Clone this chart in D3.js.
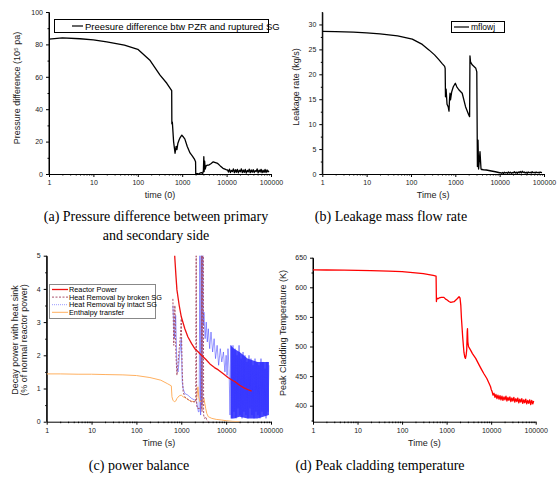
<!DOCTYPE html>
<html>
<head>
<meta charset="utf-8">
<script src="https://cdn.jsdelivr.net/npm/d3@7"></script>
<style>
  body { margin: 0; background: #fff; }
  svg text { font-family: "Liberation Sans", Arial, sans-serif; }
  .cap { font-family: "Liberation Serif", "Times New Roman", serif; font-size: 14px; }
</style>
</head>
<body>
<div id="chart"></div>
<script>
// ---------- data ----------
var xTicks = [1, 10, 100, 1000, 10000, 100000];

// late-time grid shared by the noisy tails (s)
var lateT = [10500, 11000, 11600, 12200, 12800, 13500, 14200, 15000, 15800, 16600, 17500, 18400,
  19400, 20400, 21500, 22600, 23800, 25000, 26300, 27700, 29200, 30700, 32300, 34000, 35800,
  37700, 39700, 41800, 44000, 46300, 48700, 51300, 54000, 56800, 59800, 63000, 66300, 69800,
  73500, 77400, 81500, 85800, 90000];

// (a) pressure difference PZR - ruptured SG (10^5 pa)
var aTime = [1, 2, 5, 10, 20, 50, 100, 190, 317, 450, 580, 585, 600, 640, 690, 730, 760, 800, 850,
  900, 980, 1050, 1150, 1300, 1500, 1700, 1900, 2000, 2020, 2200, 2400, 2500, 2700, 2900, 3000,
  3070, 3120, 3200, 3300, 3450, 3700, 4000, 4500, 5000, 5600, 6300, 7200, 8300, 9500, 10000];
var aVal = [83.2, 84, 83.5, 82.8, 81.5, 79.5, 77, 70, 61, 56, 51.5, 31, 32, 20, 12.8, 17, 15, 19, 21,
  22.5, 24, 23, 21.5, 17, 13, 11, 9, 7.6, 0, 0.3, 0, 0.5, 0.8, 0.4, 2,
  10.7, 1.5, 8, 3, 5, 5.5, 5.5, 6.5, 7.5, 7, 6.5, 5, 3.5, 2.8, 2.5];
var aLate = [2.5, 1.2, 3.0, 0.9, 2.2, 1.5, 3.1, 0.8, 2.6, 1.1, 2.9, 0.7, 2.3, 1.4, 3.2, 0.9, 2.4,
  1.0, 2.8, 0.6, 2.2, 1.3, 3.0, 0.8, 2.5, 1.1, 2.7, 0.9, 2.1, 1.5, 3.1, 0.7, 2.4, 1.2, 2.9, 0.8,
  2.3, 1.0, 2.8, 0.9, 2.5, 1.3, 2.0];

// (b) leakage mass flow rate, mflowj (kg/s)
var bTime = [1, 2, 5, 10, 20, 50, 107, 180, 254, 340, 430, 500, 575, 590, 600, 620, 650, 690, 720,
  740, 760, 780, 830, 900, 1000, 1080, 1200, 1430, 1700, 2000, 2100, 2140, 2200, 2400, 2900, 3050,
  3150, 3250, 3350, 3500, 3600, 3800, 3900, 4000, 4300, 5000, 6500, 8000, 10000];
var bVal = [28.6, 28.55, 28.45, 28.3, 28.1, 27.7, 27.05, 26, 24.9, 23.9, 22.9, 22.2, 21.6, 21.2,
  15.5, 17, 14, 13.5, 12.6, 15, 16.2, 14.9, 16.5, 17.5, 18.2, 17.5, 16.9, 16.2, 13.5, 11.9, 11.5,
  23.7, 22.5, 21.9, 21.2, 20.5, 1.5, 6.8, 1.0, 3, 4.5, 1.0, 0.9, 0.9, 0.85, 0.8, 0.6, 0.45, 0.25];
var bLate = [0.25, 0.15, 0.3, 0.1, 0.35, 0.2, 0.3, 0.15, 0.4, 0.2, 0.35, 0.15, 0.3, 0.25, 0.45, 0.2,
  0.35, 0.15, 0.4, 0.25, 0.5, 0.2, 0.55, 0.3, 0.4, 0.2, 0.35, 0.15, 0.4, 0.25, 0.35, 0.2, 0.45,
  0.25, 0.35, 0.2, 0.4, 0.25, 0.35, 0.2, 0.4, 0.3, 0.35];

// (c) power balance (% of normal reactor power)
var cPowerT = [700, 720, 760, 800, 900, 1000, 1200, 1400, 1700, 2000, 2400, 2800, 3500, 4500, 5500,
  6700, 8500, 11000, 14000, 16000, 20000, 25000, 30000, 37000];
var cPower = [5.2, 4.9, 4.4, 3.97, 3.5, 3.16, 2.8, 2.56, 2.35, 2.2, 2.1, 2.0, 1.88, 1.72, 1.63,
  1.56, 1.45, 1.33, 1.24, 1.2, 1.1, 1.02, 0.97, 0.92];
var cBrokenT = [650, 680, 720, 760, 800, 850, 900, 960, 1000, 1050, 1100, 1200, 1300, 1500, 1700,
  1900, 2100, 2150, 2200, 2300, 2800, 2850, 2900, 3000, 3100, 3150, 3300, 3500, 3700, 4000];
var cBroken = [3.7, 2.3, 3.5, 2.0, 1.4, 1.8, 2.2, 2.6, 3.1, 1.5, 0.9, 0.75, 0.7, 0.65, 0.6, 0.6,
  0.6, 5.2, 0.5, 0.4, 0.4, 5.2, 0.3, 5.2, 5.2, 0.2, 0.1, 0.15, 0.05, 0];
var cIntactT = [650, 700, 750, 800, 850, 900, 950, 1000, 1050, 1100, 1200, 1400, 1700, 2000, 2200,
  2400, 2500, 2600, 2700, 2800, 2900, 3000, 3100, 3200, 3400, 3600, 3800, 4000, 4300, 4600, 5000,
  5400, 5800, 6300, 6800, 7400, 8000, 8700, 9400, 10000];
var cIntact = [3.5, 2.5, 3.2, 1.6, 1.5, 1.9, 2.2, 2.5, 1.2, 1.0, 0.85, 0.8, 0.7, 0.65, 0.6,
  0.3, 0.3, 5.2, 0.2, 5.2, 0.5, 5.2, 2.9, 3.3, 2.5, 3.0, 2.4, 2.8, 2.2, 2.7, 2.1,
  2.5, 1.9, 2.3, 1.7, 2.2, 1.8, 2.1, 1.5, 2.0];
var cIntactLate = [1.4, 2.2, 1.6, 0.2, 2.3, 0.1, 2.3, 0.3, 2.2, 0.1, 2.0, 0.4, 2.3, 0.2, 1.9, 0.1,
  2.1, 0.3, 2.0, 0.2, 1.8, 0.1, 2.0, 0.4, 1.9, 0.2, 1.7, 0.1, 1.9, 0.3, 1.8, 0.2, 1.7, 0.1, 1.9,
  0.3, 1.8, 0.2, 1.6, 0.1, 1.8, 0.3, 1.7];
var cBandT = [12600, 15000, 20000, 30000, 50000, 90000];
var cBandHi = [2.3, 2.2, 2.1, 1.9, 1.8, 1.8];
var cBandLo = [0.1, 0.1, 0.15, 0.1, 0.1, 0.2];
var cEnthT = [1, 2, 5, 10, 20, 50, 100, 200, 350, 500, 600, 620, 650, 700, 750, 800, 900, 1000,
  1100, 1300, 1600, 2000, 2200, 2350, 2450, 2600, 2900, 3200, 3500, 3700, 4000, 4800, 6000, 8000,
  10000, 14000, 20000];
var cEnth = [1.44, 1.44, 1.43, 1.43, 1.42, 1.41, 1.39, 1.33, 1.25, 1.14, 1.08, 0.75, 0.65, 0.6,
  0.62, 0.7, 0.78, 0.8, 0.75, 0.7, 0.62, 0.6, 0.7, 1.05, 0.75, 0.6, 0.62, 0.7, 0.4, 0.25, 0.15,
  0.1, 0.07, 0.05, 0.03, 0.01, 0];
var cLegend = ["Reactor Power", "Heat Removal  by broken SG", "Heat Removal by intact SG", "Enthalpy transfer"];

// (d) peak cladding temperature (K)
var dTime = [1, 2, 5, 10, 20, 50, 100, 200, 300, 400, 500, 580, 590, 600, 640, 680, 760, 870, 950,
  1030, 1130, 1240, 1470, 1750, 1900, 2000, 2080, 2150, 2300, 2450, 2560, 2650, 2750, 2830, 2900,
  2940, 3000, 3100, 3200, 3500, 3800, 4500, 5350, 6100, 6880, 8000, 8950, 9700, 10000];
var dVal = [629.3, 629.2, 629, 628.6, 628.2, 627.4, 626.4, 624.5, 623, 621.5, 620, 619, 576, 582,
  580.5, 582, 583, 583, 580, 578.5, 576, 574.5, 575.7, 581, 584, 582, 570, 548, 515, 490, 482, 480,
  486, 495, 525, 530, 508, 500, 498, 493, 488, 480, 469, 461, 454, 446, 438, 432, 428];
var dLate = [424, 418, 421, 414, 419, 412, 418, 411, 417, 410, 416, 409, 415, 410, 416, 408, 414,
  409, 415, 407, 413, 408, 414, 406, 412, 407, 413, 405, 411, 406, 412, 404, 410, 405, 411, 403,
  409, 404, 410, 402, 409, 403, 408];

// ---------- drawing ----------
var svg = d3.select("#chart").append("svg")
  .attr("width", 559)
  .attr("height", 479);
var defs = svg.append("defs");

function series(t, v) {
  return d3.zip(t, v);
}

// one log-time panel with axes
function makePanel(p) {
  var x = d3.scaleLog().domain([1, 100000]).range([p.left, p.right]);
  var y = d3.scaleLinear().domain(p.yDomain).range([p.bottom, p.top]);
  var g = svg.append("g");

  defs.append("clipPath").attr("id", "clip-" + p.id)
    .append("rect")
    .attr("x", p.left).attr("y", p.top)
    .attr("width", p.right - p.left).attr("height", p.bottom - p.top);

  // minor ticks
  var xMinor = [];
  xTicks.slice(0, -1).forEach(function(d) {
    for (var k = 2; k < 10; k++) xMinor.push(d * k);
  });
  g.append("g").attr("transform", `translate(0, ${p.bottom})`)
    .call(d3.axisBottom(x).tickValues(xMinor).tickFormat("").tickSize(1.5).tickSizeOuter(0))
    .call(s => s.select(".domain").remove());
  g.append("g").attr("transform", `translate(${p.left}, 0)`)
    .call(d3.axisLeft(y).tickValues(p.yMinor).tickFormat("").tickSize(1.5).tickSizeOuter(0))
    .call(s => s.select(".domain").remove());

  // major axes
  var xa = g.append("g").attr("transform", `translate(0, ${p.bottom})`)
    .call(d3.axisBottom(x).tickValues(xTicks).tickFormat(d3.format("d")).tickSize(3).tickSizeOuter(0));
  var ya = g.append("g").attr("transform", `translate(${p.left}, 0)`)
    .call(d3.axisLeft(y).tickValues(p.yTicks).tickFormat(d3.format("d")).tickSize(3).tickSizeOuter(0));
  [xa, ya].forEach(function(a) {
    a.selectAll("text").style("font-size", "7px").attr("fill", "#222");
    a.select(".domain").attr("stroke-width", 1);
  });
  // y axis line runs to the top of the frame
  g.append("line")
    .attr("x1", p.left).attr("x2", p.left)
    .attr("y1", p.top).attr("y2", p.bottom)
    .attr("stroke", "black");

  // axis titles
  svg.append("text")
    .attr("x", (p.left + p.right) / 2)
    .attr("y", p.bottom + 24)
    .attr("text-anchor", "middle")
    .attr("fill", "#222")
    .style("font-size", "9px")
    .text(p.xTitle);

  var yt = svg.append("text")
    .attr("transform", `translate(${p.yTitleX}, ${p.yTitleY}) rotate(-90)`)
    .attr("text-anchor", "middle")
    .attr("fill", "#222")
    .style("font-size", "9px");
  p.yTitle.forEach(function(line, i) {
    yt.append("tspan").attr("x", 0).attr("dy", i === 0 ? 0 : "0.95em").text(line);
  });

  // caption
  p.caption.forEach(function(line, i) {
    svg.append("text")
      .attr("class", "cap")
      .attr("x", p.capX)
      .attr("y", p.capY + i * 19)
      .attr("text-anchor", "middle")
      .text(line);
  });

  var plot = svg.append("g").attr("clip-path", `url(#clip-${p.id})`);
  return { x: x, y: y, plot: plot };
}

function addLine(panel, data, color, width, dash) {
  var line = d3.line()
    .x(d => panel.x(d[0]))
    .y(d => panel.y(d[1]));
  return panel.plot.append("path")
    .datum(data)
    .attr("d", line)
    .attr("fill", "none")
    .attr("stroke", color)
    .attr("stroke-width", width)
    .attr("stroke-linejoin", "round")
    .attr("stroke-dasharray", dash || null);
}

// ----- (a) -----
var pa = makePanel({
  id: "a", left: 49, right: 271, top: 12, bottom: 174,
  yDomain: [0, 100], yTicks: [0, 20, 40, 60, 80, 100], yMinor: [10, 30, 50, 70, 90],
  xTitle: "time (0)", yTitle: ["Pressure difference (10\u2075 pa)"], yTitleX: 20, yTitleY: 88,
  caption: ["(a) Pressure difference between primary", "and secondary side"], capX: 156, capY: 221
});
addLine(pa, series(aTime.concat(lateT), aVal.concat(aLate)), "#000", 1.3);
var legA = svg.append("g");
legA.append("rect").attr("x", 54.5).attr("y", 19.5).attr("width", 214).attr("height", 13)
  .attr("fill", "#fff").attr("stroke", "#000");
legA.append("line").attr("x1", 72).attr("x2", 83).attr("y1", 26).attr("y2", 26)
  .attr("stroke", "#000").attr("stroke-width", 1.2);
legA.append("text").attr("x", 85).attr("y", 29.5).style("font-size", "9.5px")
  .text("Preesure difference btw PZR and ruptured SG");

// ----- (b) -----
var pb = makePanel({
  id: "b", left: 322.3, right: 544, top: 12, bottom: 174,
  yDomain: [0, 32.5], yTicks: [0, 5, 10, 15, 20, 25, 30], yMinor: [2.5, 7.5, 12.5, 17.5, 22.5, 27.5],
  xTitle: "Time (s)", yTitle: ["Leakage rate (kg/s)"], yTitleX: 299, yTitleY: 87,
  caption: ["(b) Leakage mass flow rate"], capX: 391, capY: 221
});
addLine(pb, series(bTime.concat(lateT), bVal.concat(bLate)), "#000", 1.3);
var legB = svg.append("g");
legB.append("rect").attr("x", 451.5).attr("y", 21.5).attr("width", 53).attr("height", 11)
  .attr("fill", "#fff").attr("stroke", "#000");
legB.append("line").attr("x1", 454).attr("x2", 469).attr("y1", 27).attr("y2", 27)
  .attr("stroke", "#000").attr("stroke-width", 1.2);
legB.append("text").attr("x", 471).attr("y", 30).style("font-size", "8.5px").text("mflowj");

// ----- (c) -----
var pc = makePanel({
  id: "c", left: 46.7, right: 271, top: 255.7, bottom: 421.7,
  yDomain: [0, 5], yTicks: [0, 1, 2, 3, 4, 5], yMinor: [0.5, 1.5, 2.5, 3.5, 4.5],
  xTitle: "Time (s)", yTitle: ["Decay power with heat sink", "(% of normal reactor power)"],
  yTitleX: 18, yTitleY: 340,
  caption: ["(c) power balance"], capX: 139, capY: 470
});
var cColors = ["#ee1111", "#a8506a", "#6a6aff", "#ffb060"];
var band = d3.area()
  .x(d => pc.x(d[0]))
  .y0(d => pc.y(d[1]))
  .y1(d => pc.y(d[2]));
pc.plot.append("path")
  .datum(d3.zip(cBandT, cBandLo, cBandHi))
  .attr("d", band)
  .attr("fill", "#0a0aff")
  .attr("opacity", 0.75);
addLine(pc, series(cIntactT.concat(lateT), cIntact.concat(cIntactLate)), "#2a2aff", 0.6).attr("opacity", 0.8);
addLine(pc, series(cEnthT, cEnth), cColors[3], 1);
addLine(pc, series(cBrokenT, cBroken), cColors[1], 1, "2,1.5");
addLine(pc, series(cPowerT, cPower), cColors[0], 1.3);

var legC = svg.append("g");
legC.append("rect").attr("x", 49.5).attr("y", 284.5).attr("width", 106).attr("height", 34)
  .attr("fill", "#fff").attr("stroke", "#888");
var legDash = [null, "2,1.5", "1,1", null];
var legW = [1.3, 1, 1, 1];
var legCol = ["#ee1111", "#a8506a", "#9a9aff", "#ffb060"];
cLegend.forEach(function(name, i) {
  var yy = 289.5 + i * 7.6;
  legC.append("line").attr("x1", 52).attr("x2", 68).attr("y1", yy).attr("y2", yy)
    .attr("stroke", legCol[i]).attr("stroke-width", legW[i]).attr("stroke-dasharray", legDash[i]);
  legC.append("text").attr("x", 69).attr("y", yy + 2.6).style("font-size", "7.3px").text(name);
});

// ----- (d) -----
var pd = makePanel({
  id: "d", left: 313, right: 535.7, top: 257.7, bottom: 421.7,
  yDomain: [373, 650], yTicks: [400, 450, 500, 550, 600, 650], yMinor: [375, 425, 475, 525, 575, 625],
  xTitle: "Time (s)", yTitle: ["Peak Cladding Temperature (K)"], yTitleX: 286, yTitleY: 333,
  caption: ["(d) Peak cladding temperature"], capX: 380, capY: 470
});
addLine(pd, series(dTime.concat(lateT), dVal.concat(dLate)), "#ff0000", 1.3);
</script>
</body>
</html>
